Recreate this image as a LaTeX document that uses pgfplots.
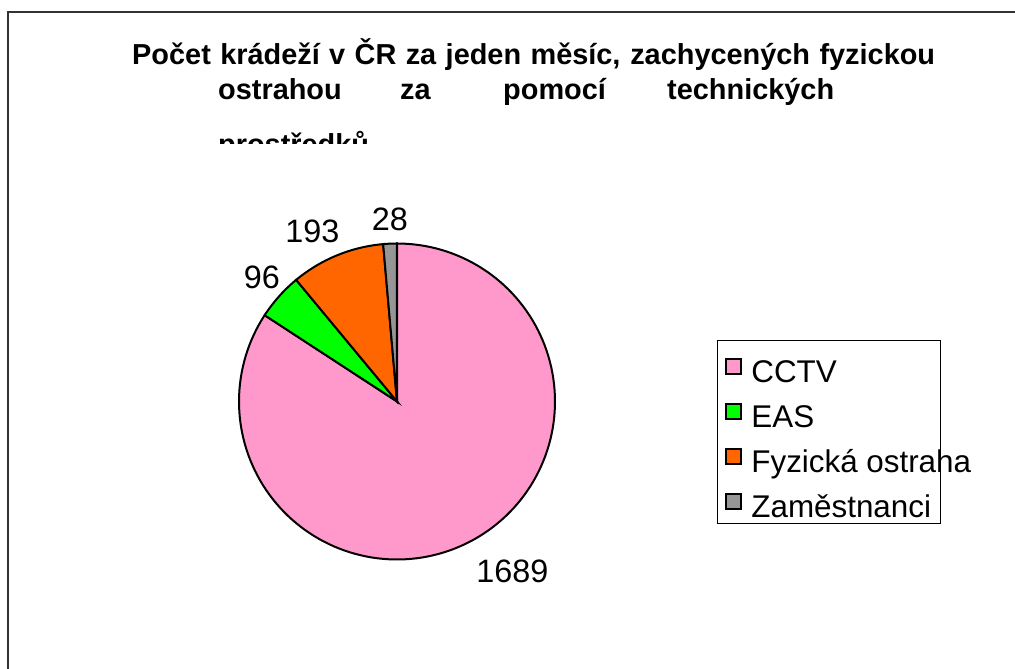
\documentclass[border=0pt]{standalone}
\usepackage{pgfplots}
\usepackage{pgfplotstable}
\pgfplotsset{compat=1.18}
\usepackage{fontspec}
\setmainfont{Liberation Sans}
\definecolor{cctv}{HTML}{FF99CC}
\definecolor{eas}{HTML}{00FF00}
\definecolor{fyz}{HTML}{FF6600}
\definecolor{zam}{HTML}{969696}
\pgfplotstableread{
label value
CCTV 1689
EAS 96
Fyz 193
Zam 28
}\piedata
\pgfplotstablegetelem{0}{value}\of\piedata\let\vA\pgfplotsretval
\pgfplotstablegetelem{1}{value}\of\piedata\let\vB\pgfplotsretval
\pgfplotstablegetelem{2}{value}\of\piedata\let\vC\pgfplotsretval
\pgfplotstablegetelem{3}{value}\of\piedata\let\vD\pgfplotsretval
\pgfmathsetmacro\tot{\vA+\vB+\vC+\vD}
\pgfmathsetmacro\aA{90}
\pgfmathsetmacro\aB{90-360*(\vA/\tot)}
\pgfmathsetmacro\aC{\aB-360*(\vB/\tot)}
\pgfmathsetmacro\aD{\aC-360*(\vC/\tot)}
\pgfmathsetmacro\aE{\aD-360*(\vD/\tot)}
\newcommand{\lgs}{\rule[-7bp]{0pt}{44bp}}
\begin{document}%
\begin{tikzpicture}
\useasboundingbox (0,0) rectangle (1015bp,669bp);
\clip (0,0) rectangle (1015bp,669bp);
\begin{axis}[
  at={(0,0)}, anchor=south west,
  scale only axis, width=1015bp, height=669bp,
  xmin=0, xmax=1015, ymin=0, ymax=669,
  xtick=\empty, ytick=\empty,
  hide axis, clip=false,
  area legend,
  legend image code/.code={
    \draw[#1,line width=2bp] (0bp,-9.8bp) rectangle (15bp,5.2bp);},
  legend style={
    at={(717/1015,328.5/669)}, anchor=north west,
    draw=black, line width=0.8bp, fill=white,
    inner xsep=8bp, inner ysep=4.5bp,
    font=\fontsize{31.5}{31.5}\selectfont,
    nodes={inner sep=0pt},
    row sep=6.4bp, column sep=9bp,
    legend cell align=left,
  },
]
\addplot[fill=cctv, draw=black, line width=2bp, domain=\aB:\aA, samples=150, variable=\t]
  ({397+158*cos(\t)},{267.5+158*sin(\t)}) -- (axis cs:397,267.5) -- cycle;
\addlegendentry{\lgs\makebox[181bp][l]{CCTV}}
\addplot[fill=eas, draw=black, line width=2bp, domain=\aC:\aB, samples=20, variable=\t]
  ({397+158*cos(\t)},{267.5+158*sin(\t)}) -- (axis cs:397,267.5) -- cycle;
\addlegendentry{\lgs\makebox[181bp][l]{EAS}}
\addplot[fill=fyz, draw=black, line width=2bp, domain=\aD:\aC, samples=30, variable=\t]
  ({397+158*cos(\t)},{267.5+158*sin(\t)}) -- (axis cs:397,267.5) -- cycle;
\addlegendentry{\lgs\makebox[181bp][l]{Fyzická ostraha}}
\addplot[fill=zam, draw=black, line width=2bp, domain=\aE:\aD, samples=8, variable=\t]
  ({397+158*cos(\t)},{267.5+158*sin(\t)}) -- (axis cs:397,267.5) -- cycle;
\addlegendentry{\lgs\makebox[181bp][l]{Zaměstnanci}}
% data labels
\node[font=\fontsize{32.5}{32.5}\selectfont] at (axis cs:512.5,98) {1689};
\node[font=\fontsize{32.5}{32.5}\selectfont] at (axis cs:262,392) {96};
\node[font=\fontsize{32.5}{32.5}\selectfont] at (axis cs:312.5,438) {193};
\node[font=\fontsize{32.5}{32.5}\selectfont] at (axis cs:390,450) {28};
% title
\node[font=\fontsize{29}{34}\bfseries, anchor=base west, inner sep=0pt] at (axis cs:132,604) {\makebox[803bp][s]{Počet krádeží v ČR za jeden měsíc, zachycených fyzickou}};
\node[font=\fontsize{29}{34}\bfseries, anchor=base west, inner sep=0pt] at (axis cs:218,569) {ostrahou};
\node[font=\fontsize{29}{34}\bfseries, anchor=base west, inner sep=0pt] at (axis cs:400,569) {za};
\node[font=\fontsize{29}{34}\bfseries, anchor=base west, inner sep=0pt] at (axis cs:503,569) {pomocí};
\node[font=\fontsize{29}{34}\bfseries, anchor=base west, inner sep=0pt] at (axis cs:667,569) {technických};
\begin{scope}
\clip (axis cs:0,525) rectangle (axis cs:1015,669);
\node[font=\fontsize{29}{34}\bfseries, anchor=base west, inner sep=0pt] at (axis cs:218,514) {prostředků};
\end{scope}
% frame
\draw[color=black!80, line width=2bp] (axis cs:8,0) -- (axis cs:8,657) -- (axis cs:1015,657);
\end{axis}
\end{tikzpicture}%
\end{document}
